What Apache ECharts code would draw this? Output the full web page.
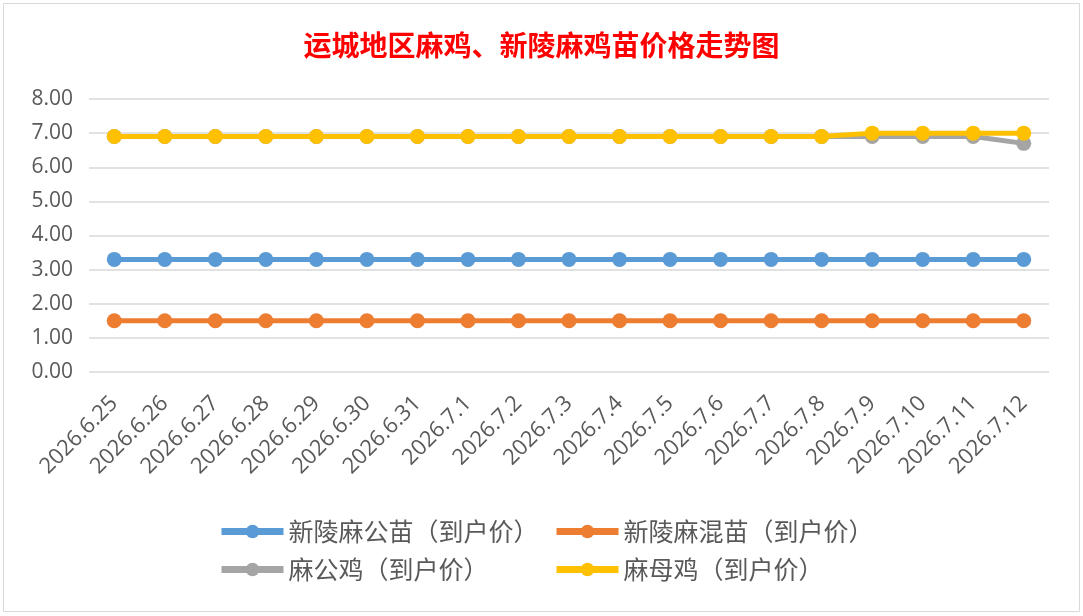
<!DOCTYPE html>
<html><head><meta charset="utf-8">
<script src="https://cdn.jsdelivr.net/npm/echarts@6/dist/echarts.min.js"></script>
<style>html,body{margin:0;padding:0;background:#fff}#c{width:1083px;height:616px}</style>
</head><body><div id="c"></div>
<script>
const categories = ['2026.6.25','2026.6.26','2026.6.27','2026.6.28','2026.6.29','2026.6.30','2026.6.31','2026.7.1','2026.7.2','2026.7.3','2026.7.4','2026.7.5','2026.7.6','2026.7.7','2026.7.8','2026.7.9','2026.7.10','2026.7.11','2026.7.12'];
const seriesNames = ['新陵麻公苗（到户价）','新陵麻混苗（到户价）','麻公鸡（到户价）','麻母鸡（到户价）'];
const gongMiao = [3.3,3.3,3.3,3.3,3.3,3.3,3.3,3.3,3.3,3.3,3.3,3.3,3.3,3.3,3.3,3.3,3.3,3.3,3.3];
const hunMiao = [1.5,1.5,1.5,1.5,1.5,1.5,1.5,1.5,1.5,1.5,1.5,1.5,1.5,1.5,1.5,1.5,1.5,1.5,1.5];
const gongJi = [6.9,6.9,6.9,6.9,6.9,6.9,6.9,6.9,6.9,6.9,6.9,6.9,6.9,6.9,6.9,6.9,6.9,6.9,6.7];
const muJi = [6.9,6.9,6.9,6.9,6.9,6.9,6.9,6.9,6.9,6.9,6.9,6.9,6.9,6.9,6.9,7.0,7.0,7.0,7.0];
const colors = ['#5B9BD5','#ED7D31','#A5A5A5','#FFC000'];
const allData = [gongMiao, hunMiao, gongJi, muJi];

const chart = echarts.init(document.getElementById('c'));
const legendPos = [[218,519],[553,519],[218,557],[553,557]];
chart.setOption({
  animation:false,
  color: colors,
  title:{text:'运城地区麻鸡、新陵麻鸡苗价格走势图',left:'center',top:26,
    textStyle:{color:'#FF0000',fontSize:28,fontWeight:'bold',fontFamily:'Noto Sans CJK SC'}},
  graphic:[{type:'rect',shape:{x:3.5,y:3.5,width:1076,height:608},style:{fill:'none',stroke:'#d9d9d9',lineWidth:1}}],
  legend: seriesNames.map((n,i)=>({data:[n],left:legendPos[i][0],top:legendPos[i][1],padding:0,itemWidth:62,itemHeight:17,
    lineStyle:{width:7},itemStyle:{borderWidth:0},
    textStyle:{fontSize:25,color:'#595959',fontFamily:'Noto Sans CJK SC'},itemGap:7})),
  grid:{left:89,right:34,top:99,bottom:244,containLabel:false},
  xAxis:{type:'category',data:categories,boundaryGap:true,
    axisLine:{show:false},axisTick:{show:false},
    axisLabel:{rotate:45,fontSize:22,color:'#595959',fontFamily:'Open Sans',margin:28,interval:0}},
  yAxis:{type:'value',min:0,max:8,interval:1,
    axisLine:{show:false},axisTick:{show:false},
    splitLine:{lineStyle:{color:'#d9d9d9',width:1.5}},
    axisLabel:{formatter:v=>v.toFixed(2),fontSize:21,color:'#595959',fontFamily:'Open Sans',margin:16}},
  series: seriesNames.map((n,i)=>({name:n,type:'line',data:allData[i],symbol:'circle',symbolSize:15,
    lineStyle:{width:5,color:colors[i]},itemStyle:{color:colors[i]},z:2+i}))
});
</script></body></html>
